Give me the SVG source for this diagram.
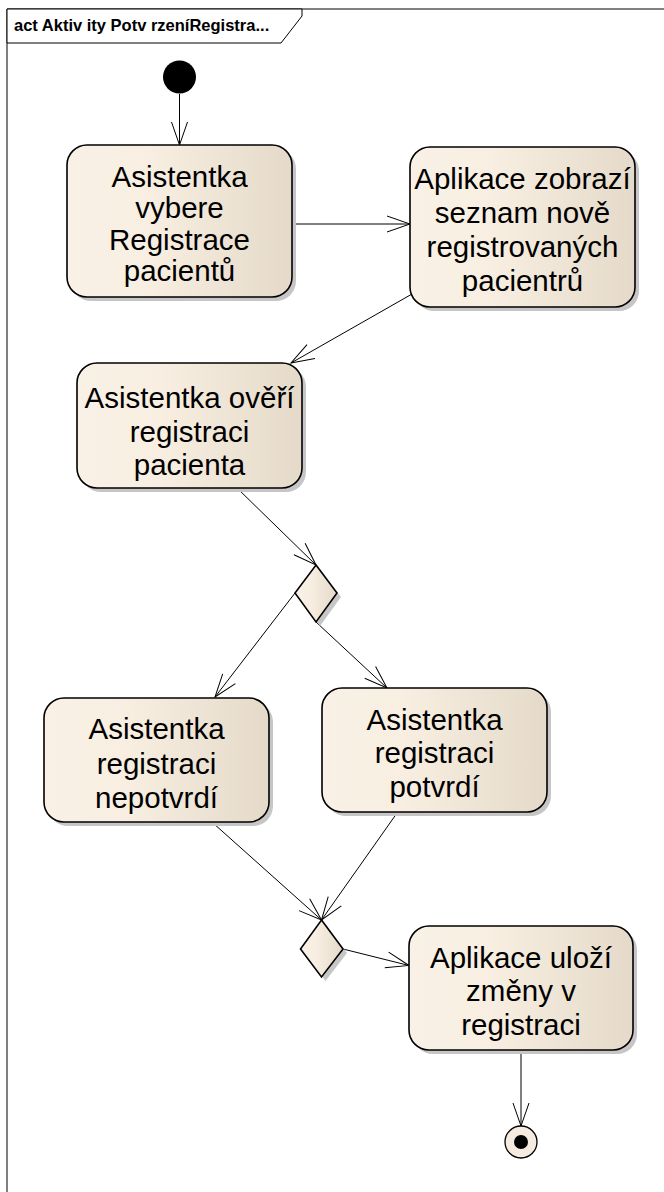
<svg xmlns="http://www.w3.org/2000/svg" width="664" height="1192" viewBox="0 0 664 1192">
<style>
.frame{fill:none;stroke:#000;stroke-width:1}
.lbl{fill:#fff;stroke:#000;stroke-width:1}
.lbltxt{font-family:"Liberation Sans",Arial,sans-serif;font-weight:bold;font-size:16.5px;fill:#000}
.shadow{fill:#c6c6c6}
.act{fill:url(#g);stroke:#000;stroke-width:1.6}
.dec{fill:url(#g);stroke:#000;stroke-width:1.6}
.t{font-family:"Liberation Sans",Arial,sans-serif;font-size:29.5px;fill:#000;text-anchor:middle}
.conn{fill:none;stroke:#000;stroke-width:1}
</style>
<defs>
<linearGradient id="g" x1="0" y1="0" x2="1" y2="0">
<stop offset="0" stop-color="#f9f1e6"/>
<stop offset="0.35" stop-color="#f8efe2"/>
<stop offset="1" stop-color="#e5dac9"/>
</linearGradient>
<marker id="arr" markerUnits="userSpaceOnUse" markerWidth="30" markerHeight="24" viewBox="-26 -12 30 24" refX="0" refY="0" orient="auto" overflow="visible">
<path d="M-23,-8 L0,0 L-23,8" fill="none" stroke="#000" stroke-width="1"/>
</marker>
</defs>
<rect width="664" height="1192" fill="#fff"/>
<g id="frame">
<path class="frame" d="M7,1192 V9 H664"/>
<path class="lbl" d="M7,9 H302 V16 L281,43 H7 Z"/>
<text class="lbltxt" x="14" y="31">act Aktiv ity Potv rzeníRegistra...</text>
</g>
<g id="connectors" class="conn" marker-end="url(#arr)">
<line x1="179.5" y1="94" x2="179.5" y2="145"/>
<line x1="292" y1="224" x2="410" y2="224"/>
<line x1="412" y1="294" x2="291" y2="363"/>
<line x1="237" y1="488" x2="316" y2="565"/>
<line x1="295" y1="593" x2="215" y2="697"/>
<line x1="316" y1="622" x2="387" y2="688"/>
<line x1="213" y1="823" x2="321.5" y2="920"/>
<line x1="397" y1="813" x2="321.5" y2="920"/>
<line x1="343" y1="949" x2="409" y2="965.5"/>
<line x1="521" y1="1050" x2="521" y2="1126"/>
</g>
<g id="start">
<circle cx="179.5" cy="77" r="16.5" fill="#000"/>
</g>
<g id="a1">
<rect class="shadow" x="71" y="149" width="225" height="152" rx="20"/>
<rect class="act" x="67" y="145" width="225" height="152" rx="20"/>
<text class="t" x="179.5" y="186.75">Asistentka</text>
<text class="t" x="179.5" y="218.25">vybere</text>
<text class="t" x="179.5" y="249.75">Registrace</text>
<text class="t" x="179.5" y="281.25">pacientů</text>
</g>
<g id="a2">
<rect class="shadow" x="414" y="151" width="225" height="160" rx="20"/>
<rect class="act" x="410" y="147" width="225" height="160" rx="20"/>
<text class="t" x="522.5" y="189">Aplikace zobrazí</text>
<text class="t" x="522.5" y="223">seznam nově</text>
<text class="t" x="522.5" y="257">registrovaných</text>
<text class="t" x="522.5" y="291">pacientrů</text>
</g>
<g id="a3">
<rect class="shadow" x="81" y="367" width="225" height="125" rx="20"/>
<rect class="act" x="77" y="363" width="225" height="125" rx="20"/>
<text class="t" x="189.5" y="408">Asistentka ověří</text>
<text class="t" x="189.5" y="441.5">registraci</text>
<text class="t" x="189.5" y="475">pacienta</text>
</g>
<g id="d1">
<path class="shadow" d="M320,569 L341,597 L320,626 L299,597 Z"/>
<path class="dec" d="M316,565 L337,593 L316,622 L295,593 Z"/>
</g>
<g id="a4">
<rect class="shadow" x="48" y="702" width="225" height="124" rx="20"/>
<rect class="act" x="44" y="698" width="225" height="124" rx="20"/>
<text class="t" x="156.5" y="739">Asistentka</text>
<text class="t" x="156.5" y="773.5">registraci</text>
<text class="t" x="156.5" y="808">nepotvrdí</text>
</g>
<g id="a5">
<rect class="shadow" x="326" y="692" width="225" height="124" rx="20"/>
<rect class="act" x="322" y="688" width="225" height="124" rx="20"/>
<text class="t" x="434.5" y="729.5">Asistentka</text>
<text class="t" x="434.5" y="763">registraci</text>
<text class="t" x="434.5" y="796.5">potvrdí</text>
</g>
<g id="d2">
<path class="shadow" d="M325.5,924 L347,953 L325.5,981 L304.5,953 Z"/>
<path class="dec" d="M321.5,920 L343,949 L321.5,977 L300.5,949 Z"/>
</g>
<g id="a6">
<rect class="shadow" x="413" y="930" width="224" height="124" rx="20"/>
<rect class="act" x="409" y="926" width="224" height="124" rx="20"/>
<text class="t" x="521" y="967.5">Aplikace uloží</text>
<text class="t" x="521" y="1001">změny v</text>
<text class="t" x="521" y="1034.5">registraci</text>
</g>
<g id="end">
<circle cx="521" cy="1142" r="16" fill="#f5ecdf" stroke="#000" stroke-width="1.3"/>
<circle cx="521" cy="1142" r="7" fill="#000"/>
</g>
</svg>
